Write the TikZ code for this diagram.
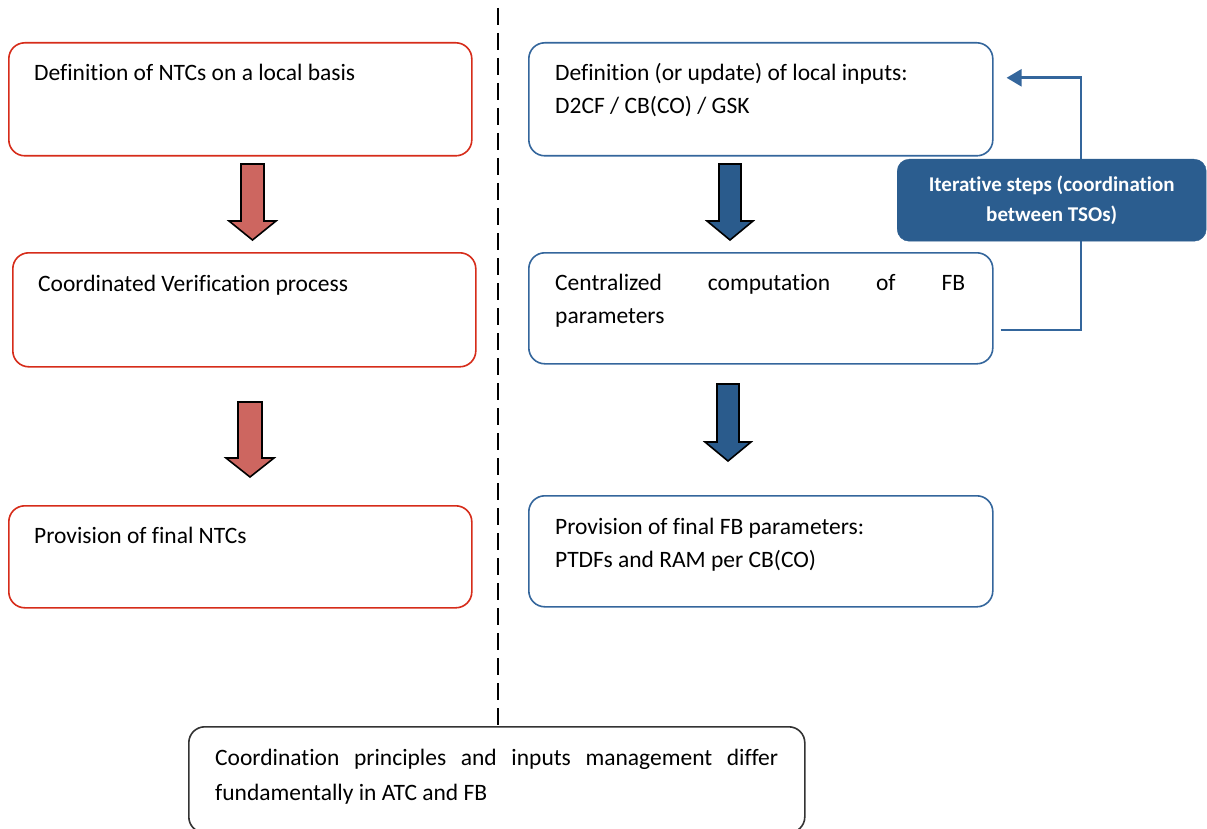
\documentclass[tikz,border=0pt]{standalone}
\usepackage{fontspec}
\setmainfont{Carlito}[Ligatures=NoCommon]
\usetikzlibrary{arrows.meta}

\definecolor{ntcred}{RGB}{214,44,26}
\definecolor{ntcfill}{RGB}{205,102,96}
\definecolor{fbline}{RGB}{52,102,156}
\definecolor{fbfill}{RGB}{42,91,140}
\definecolor{stepfill}{RGB}{43,93,143}

\tikzset{
  procbox/.style={draw, line width=1.6pt, rounded corners=16pt, fill=white,
    anchor=north west, inner sep=0pt},
  redbox/.style={procbox, draw=ntcred},
  bluebox/.style={procbox, draw=fbline},
  greybox/.style={procbox, draw=black!80},
  txt/.style={anchor=base west, inner sep=0pt, align=left,
    font=\fontsize{23.5}{33}\selectfont},
  redarrow/.style={draw=black, line width=1.6pt, fill=ntcfill, line join=miter},
  bluearrow/.style={draw=black, line width=1.6pt, fill=fbfill, line join=miter},
  divider/.style={line width=2.6pt, dash pattern=on 17pt off 8pt},
  feedback/.style={draw=fbline, line width=2.6pt,
    -{Triangle[length=15pt,width=17pt]}},
  stepbox/.style={fill=stepfill, draw=stepfill, rounded corners=12pt,
    anchor=north west, inner sep=0pt, text=white, align=center,
    font=\fontsize{21}{30}\selectfont\bfseries}
}

\begin{document}
\begin{tikzpicture}[x=1pt, y=-1pt]
\useasboundingbox (0,0) rectangle (1207,829);

% vertical divider between the two approaches
\coordinate (dtop) at (498,8);

% --- left column: NTC based process
\node[redbox, minimum width=463pt, minimum height=113pt] (l1) at (8,42) {};
\node[redbox, minimum width=463pt, minimum height=114pt] (l2) at (12,252) {};
\node[redbox, minimum width=463pt, minimum height=102pt] (l3) at (8,505) {};
\node[txt] (l1t) at (34,81) {Definition of NTCs on a local basis};
\node[txt] (l2t) at (38,291) {Coordinated Verification process};
\node[txt] (l3t) at (34,543) {Provision of final NTCs};

% --- right column: flow based process (base anchor sits on the last line)
\node[bluebox, minimum width=464pt, minimum height=113pt] (r1) at (528,42) {};
\node[bluebox, minimum width=464pt, minimum height=111pt] (r2) at (528,252) {};
\node[bluebox, minimum width=464pt, minimum height=111pt] (r3) at (528,495) {};
\node[txt] (r1t) at (555,114) {Definition (or update) of local inputs:\\D2CF / CB(CO) / GSK};
\node[txt] (r2t) at (555,323) {\makebox[410pt][s]{Centralized computation of FB}\\parameters};
\node[txt] (r3t) at (555,567) {Provision of final FB parameters:\\PTDFs and RAM per CB(CO)};

% --- bottom conclusion
\node[greybox, minimum width=616pt, minimum height=106pt] (bot) at (188,726) {};
\node[txt, font=\fontsize{23.5}{35}\selectfont] (bott) at (215,800)
  {\makebox[563pt][s]{Coordination principles and inputs management differ}\\fundamentally in ATC and FB};

\draw[divider] (dtop) -- (dtop |- bot.north);

% block arrows, left
\draw[redarrow] (241,164) -- (264,164) -- (264,221) -- (276,221) -- (252.5,240)
  -- (229,221) -- (241,221) -- cycle;
\draw[redarrow] (238,402) -- (262,402) -- (262,458) -- (274,458) -- (250,477)
  -- (226,458) -- (238,458) -- cycle;

% block arrows, right
\draw[bluearrow] (719,164) -- (741,164) -- (741,221) -- (753,221) -- (730,240)
  -- (707,221) -- (719,221) -- cycle;
\draw[bluearrow] (717,384) -- (739,384) -- (739,442) -- (751,442) -- (728,461)
  -- (705,442) -- (717,442) -- cycle;

% iteration loop between computation and local inputs
\coordinate (fbs) at ([xshift=7pt,yshift=-21.5pt]r2.east);
\coordinate (fbe) at ([xshift=13pt,yshift=21.5pt]r1.east);
\coordinate (fbx) at (1081,0);
\draw[feedback] (fbs) -| (fbx |- fbe) -- (fbe);

\node[stepbox, minimum width=309pt, minimum height=82pt] (steps) at (897,159)
  {Iterative steps (coordination\\between TSOs)};
\end{tikzpicture}
\end{document}
